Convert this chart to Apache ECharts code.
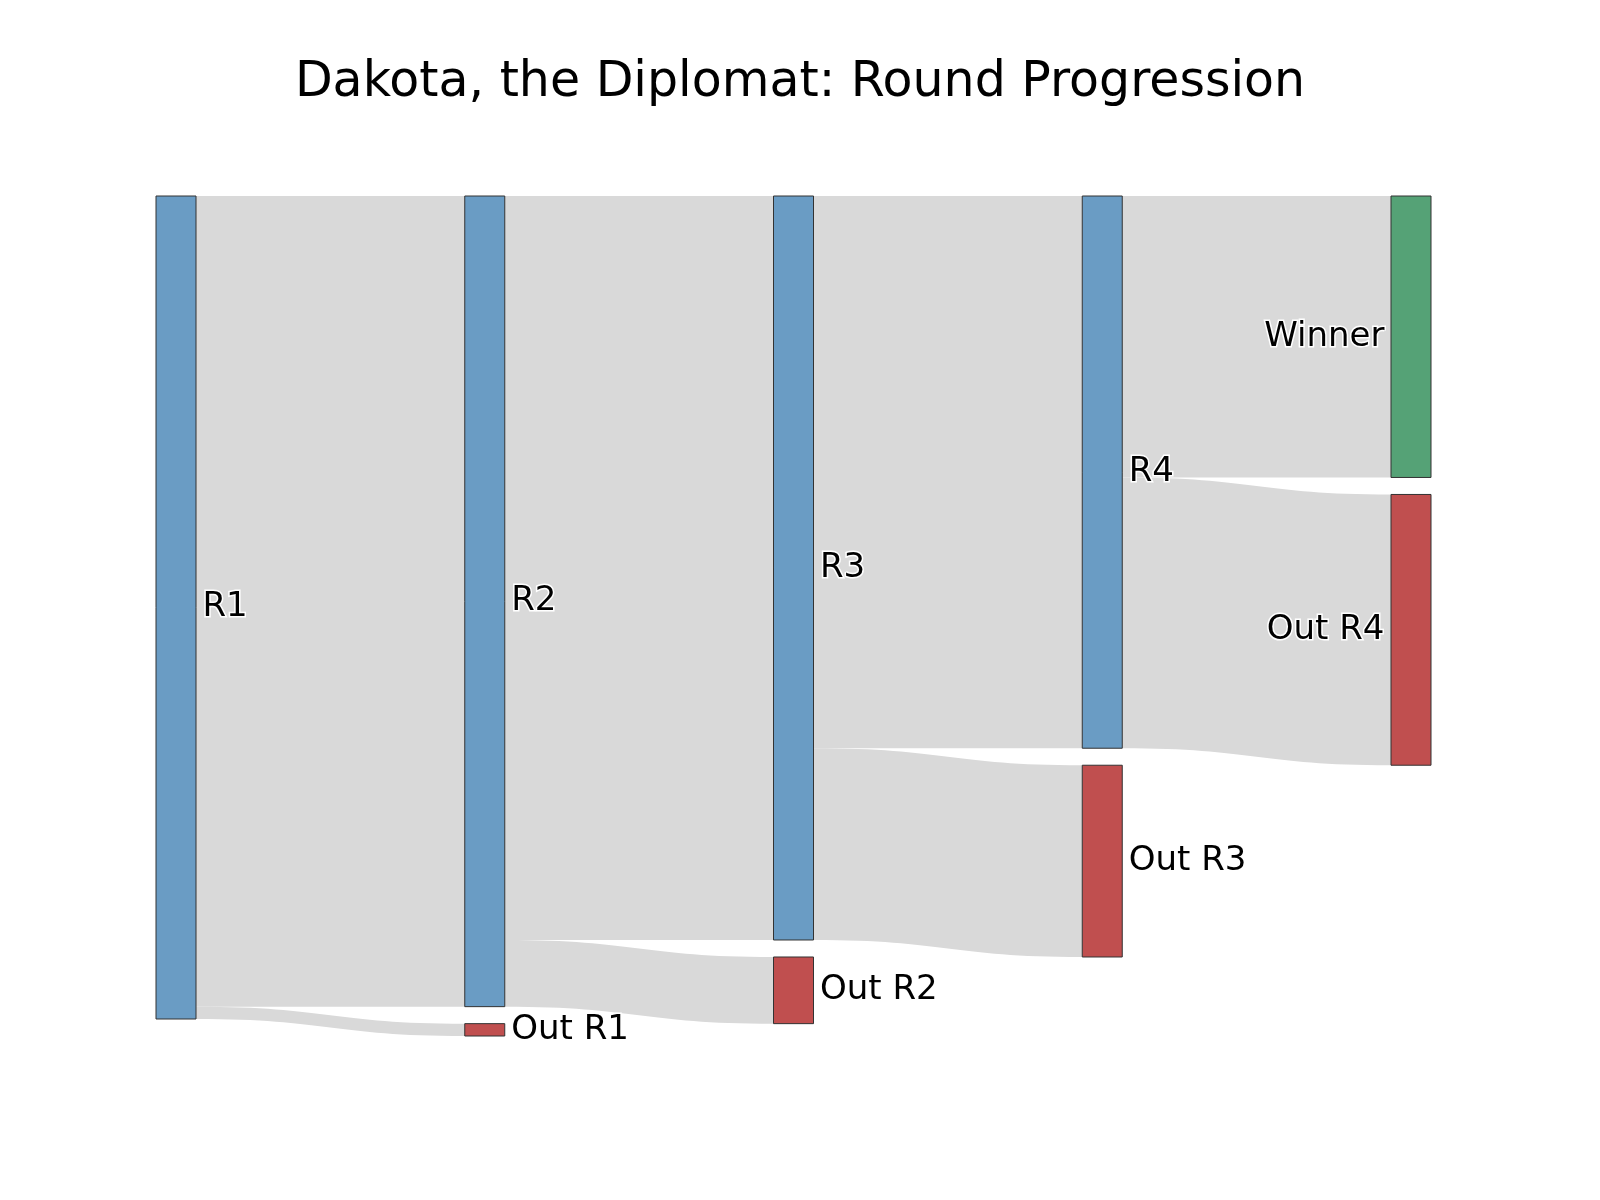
<!DOCTYPE html>
<html style="height: 100%">
<head>
    <meta charset="utf-8">
</head>
<body style="height: 100%; margin: 0; background: #fff">
    <div id="container" style="width: 1600px; height: 1200px"></div>
    <script type="text/javascript" src="https://cdn.jsdelivr.net/npm/echarts@6/dist/echarts.min.js"></script>
    <script type="text/javascript">
        // nodes, in column order
        var nodeNames = ['R1', 'R2', 'Out R1', 'R3', 'Out R2', 'R4', 'Out R3', 'Winner', 'Out R4'];
        var nodeColors = ['#6a9cc4', '#6a9cc4', '#c04f4f', '#6a9cc4', '#c04f4f', '#6a9cc4', '#c04f4f', '#55a276', '#c04f4f'];
        // flows (share of players, %)
        var linkSources = ['R1', 'R1', 'R2', 'R2', 'R3', 'R3', 'R4', 'R4'];
        var linkTargets = ['R2', 'Out R1', 'R3', 'Out R2', 'R4', 'Out R3', 'Winner', 'Out R4'];
        var linkValues = [98.5, 1.5, 90.4, 8.1, 67.1, 23.3, 34.2, 32.9];

        var font = '"DejaVu Sans", sans-serif';
        var lastColumn = ['Winner', 'Out R4'];

        var myChart = echarts.init(document.getElementById('container'));

        var nodes = nodeNames.map(function (n, i) {
            return {
                name: n,
                itemStyle: { color: nodeColors[i] },
                label: { position: lastColumn.indexOf(n) >= 0 ? 'left' : 'right' }
            };
        });
        var links = linkValues.map(function (v, i) {
            return { source: linkSources[i], target: linkTargets[i], value: v };
        });

        myChart.setOption({
            animation: false,
            title: {
                text: 'Dakota, the Diplomat: Round Progression',
                left: 'center',
                top: 54,
                textStyle: { fontFamily: font, fontSize: 49, fontWeight: 'normal', color: '#000' }
            },
            series: [{
                type: 'sankey',
                left: 156,
                right: 169,
                top: 196,
                height: 840,
                nodeWidth: 40,
                nodeGap: 17,
                nodeAlign: 'left',
                layoutIterations: 0,
                draggable: false,
                emphasis: { disabled: true },
                data: nodes,
                links: links,
                itemStyle: { borderColor: '#333', borderWidth: 1 },
                lineStyle: { color: '#d9d9d9', opacity: 1, curveness: 0.5 },
                label: {
                    fontFamily: font,
                    fontSize: 34,
                    color: '#000',
                    distance: 6,
                    textBorderColor: '#fff',
                    textBorderWidth: 3
                }
            }]
        });
    </script>
</body>
</html>
